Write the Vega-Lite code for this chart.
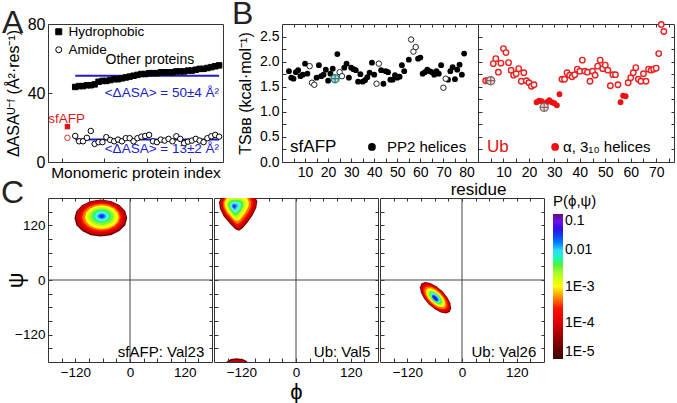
{
"$schema":"https://vega.github.io/schema/vega-lite/v6.json",
"autosize":{"type":"none"},
"padding":{"left":48,"top":24,"right":629,"bottom":379},
"background":"white",
"config":{
 "font":"Liberation Sans",
 "view":{"stroke":"#333","strokeWidth":1},
 "axis":{"domain":false,"grid":false,"tickSize":-4,"tickColor":"#333","labelColor":"#000","titleColor":"#000","titleFontWeight":"normal","labelFont":"Liberation Sans","titleFont":"Liberation Sans","labelPadding":7},
 "title":{"fontSize":32,"fontWeight":"normal","anchor":"start","frame":"group","color":"#222","baseline":"alphabetic"},
 "legend":{"labelFont":"Liberation Sans","titleFont":"Liberation Sans"}
},
"datasets":{
 "asaMean":[{"x1":3,"x2":40,"v":50,"ty":40,"label":"<ΔASA> = 50±4 Å²"},{"x1":3,"x2":40,"v":13,"ty":7.8,"label":"<ΔASA> = 13±2 Å²"}],
 "atext":[{"i":22.2,"v":59,"t":"Other proteins","k":"other"},{"i":0.8,"v":25,"t":"sfAFP","k":"sfAFP"}],
 "asa":[
  {"i":1,"v":20.5,"k":"Hydrophobic","g":"sfAFP"},{"i":1,"v":14,"k":"Amide","g":"sfAFP"},
  {"i":3,"v":43.5,"k":"Hydrophobic","g":"other"},{"i":4,"v":44,"k":"Hydrophobic","g":"other"},{"i":5,"v":44,"k":"Hydrophobic","g":"other"},{"i":6,"v":44.5,"k":"Hydrophobic","g":"other"},{"i":7,"v":44.5,"k":"Hydrophobic","g":"other"},{"i":8,"v":45,"k":"Hydrophobic","g":"other"},{"i":9,"v":46.5,"k":"Hydrophobic","g":"other"},{"i":10,"v":47,"k":"Hydrophobic","g":"other"},{"i":11,"v":47,"k":"Hydrophobic","g":"other"},{"i":12,"v":47.5,"k":"Hydrophobic","g":"other"},{"i":13,"v":48,"k":"Hydrophobic","g":"other"},{"i":14,"v":48,"k":"Hydrophobic","g":"other"},{"i":15,"v":48.5,"k":"Hydrophobic","g":"other"},{"i":16,"v":49,"k":"Hydrophobic","g":"other"},{"i":17,"v":49.5,"k":"Hydrophobic","g":"other"},{"i":18,"v":50,"k":"Hydrophobic","g":"other"},{"i":19,"v":50.5,"k":"Hydrophobic","g":"other"},{"i":20,"v":51,"k":"Hydrophobic","g":"other"},{"i":21,"v":51,"k":"Hydrophobic","g":"other"},{"i":22,"v":51.5,"k":"Hydrophobic","g":"other"},{"i":23,"v":51.5,"k":"Hydrophobic","g":"other"},{"i":24,"v":51.5,"k":"Hydrophobic","g":"other"},{"i":25,"v":52,"k":"Hydrophobic","g":"other"},{"i":26,"v":52,"k":"Hydrophobic","g":"other"},{"i":27,"v":52,"k":"Hydrophobic","g":"other"},{"i":28,"v":52,"k":"Hydrophobic","g":"other"},{"i":29,"v":52.5,"k":"Hydrophobic","g":"other"},{"i":30,"v":52.5,"k":"Hydrophobic","g":"other"},{"i":31,"v":52.5,"k":"Hydrophobic","g":"other"},{"i":32,"v":53,"k":"Hydrophobic","g":"other"},{"i":33,"v":53,"k":"Hydrophobic","g":"other"},{"i":34,"v":53.5,"k":"Hydrophobic","g":"other"},{"i":35,"v":54,"k":"Hydrophobic","g":"other"},{"i":36,"v":54,"k":"Hydrophobic","g":"other"},{"i":37,"v":54.5,"k":"Hydrophobic","g":"other"},{"i":38,"v":55,"k":"Hydrophobic","g":"other"},{"i":39,"v":55.5,"k":"Hydrophobic","g":"other"},{"i":40,"v":56,"k":"Hydrophobic","g":"other"},
  {"i":3,"v":15.1,"k":"Amide","g":"other"},{"i":4,"v":12,"k":"Amide","g":"other"},{"i":5,"v":12,"k":"Amide","g":"other"},{"i":6,"v":14,"k":"Amide","g":"other"},{"i":7,"v":18,"k":"Amide","g":"other"},{"i":8,"v":10.5,"k":"Amide","g":"other"},{"i":9,"v":11.5,"k":"Amide","g":"other"},{"i":10,"v":11.5,"k":"Amide","g":"other"},{"i":11,"v":14.4,"k":"Amide","g":"other"},{"i":12,"v":12.8,"k":"Amide","g":"other"},{"i":13,"v":12,"k":"Amide","g":"other"},{"i":14,"v":13,"k":"Amide","g":"other"},{"i":15,"v":12,"k":"Amide","g":"other"},{"i":16,"v":13.8,"k":"Amide","g":"other"},{"i":17,"v":13.8,"k":"Amide","g":"other"},{"i":18,"v":12,"k":"Amide","g":"other"},{"i":19,"v":13.8,"k":"Amide","g":"other"},{"i":20,"v":14.7,"k":"Amide","g":"other"},{"i":21,"v":15.1,"k":"Amide","g":"other"},{"i":22,"v":15.7,"k":"Amide","g":"other"},{"i":23,"v":12,"k":"Amide","g":"other"},{"i":24,"v":11.5,"k":"Amide","g":"other"},{"i":25,"v":13,"k":"Amide","g":"other"},{"i":26,"v":12.4,"k":"Amide","g":"other"},{"i":27,"v":13.4,"k":"Amide","g":"other"},{"i":28,"v":12,"k":"Amide","g":"other"},{"i":29,"v":14.9,"k":"Amide","g":"other"},{"i":30,"v":13.4,"k":"Amide","g":"other"},{"i":31,"v":10.9,"k":"Amide","g":"other"},{"i":32,"v":11.8,"k":"Amide","g":"other"},{"i":33,"v":12.4,"k":"Amide","g":"other"},{"i":34,"v":13.4,"k":"Amide","g":"other"},{"i":35,"v":12.4,"k":"Amide","g":"other"},{"i":36,"v":11.5,"k":"Amide","g":"other"},{"i":37,"v":13.8,"k":"Amide","g":"other"},{"i":38,"v":14.9,"k":"Amide","g":"other"},{"i":39,"v":15.7,"k":"Amide","g":"other"},{"i":40,"v":14.7,"k":"Amide","g":"other"}
 ],
 "sf":[
  {"r":3,"v":1.81,"t":"h"},{"r":4,"v":1.68,"t":"h"},{"r":5,"v":1.66,"t":"h"},{"r":6,"v":1.79,"t":"h"},{"r":7,"v":1.83,"t":"h"},{"r":8,"v":1.71,"t":"h"},{"r":9,"v":1.74,"t":"h"},{"r":10,"v":1.96,"t":"h"},{"r":11,"v":1.76,"t":"h"},{"r":12,"v":1.91,"t":"o"},{"r":13,"v":1.58,"t":"o"},{"r":14,"v":1.54,"t":"o"},{"r":15,"v":1.68,"t":"h"},{"r":16,"v":1.93,"t":"h"},{"r":17,"v":1.71,"t":"h"},{"r":18,"v":1.74,"t":"h"},{"r":19,"v":1.84,"t":"h"},{"r":20,"v":1.62,"t":"h"},{"r":21,"v":1.76,"t":"h"},{"r":22,"v":1.86,"t":"h"},{"r":23,"v":1.66,"t":"x"},{"r":24,"v":2.15,"t":"h"},{"r":25,"v":1.79,"t":"o"},{"r":26,"v":1.71,"t":"o"},{"r":27,"v":1.88,"t":"h"},{"r":28,"v":1.96,"t":"h"},{"r":29,"v":1.68,"t":"h"},{"r":30,"v":1.88,"t":"h"},{"r":31,"v":1.85,"t":"h"},{"r":32,"v":1.83,"t":"h"},{"r":33,"v":1.6,"t":"h"},{"r":34,"v":1.75,"t":"h"},{"r":35,"v":1.6,"t":"h"},{"r":36,"v":1.63,"t":"h"},{"r":37,"v":1.69,"t":"h"},{"r":38,"v":1.78,"t":"h"},{"r":39,"v":1.98,"t":"h"},{"r":40,"v":1.74,"t":"h"},{"r":41,"v":1.56,"t":"o"},{"r":42,"v":1.96,"t":"o"},{"r":43,"v":1.83,"t":"h"},{"r":44,"v":1.56,"t":"h"},{"r":45,"v":1.81,"t":"h"},{"r":46,"v":1.79,"t":"h"},{"r":47,"v":1.64,"t":"h"},{"r":48,"v":1.64,"t":"h"},{"r":49,"v":1.73,"t":"h"},{"r":50,"v":1.68,"t":"h"},{"r":51,"v":1.7,"t":"h"},{"r":52,"v":1.93,"t":"h"},{"r":53,"v":1.81,"t":"h"},{"r":55,"v":2.04,"t":"h"},{"r":56,"v":2.44,"t":"o"},{"r":57,"v":2.2,"t":"o"},{"r":58,"v":2.29,"t":"o"},{"r":59,"v":2.06,"t":"h"},{"r":60,"v":2.08,"t":"h"},{"r":61,"v":1.76,"t":"h"},{"r":62,"v":1.79,"t":"h"},{"r":63,"v":1.84,"t":"h"},{"r":64,"v":1.81,"t":"h"},{"r":65,"v":1.79,"t":"h"},{"r":66,"v":1.74,"t":"h"},{"r":67,"v":1.81,"t":"h"},{"r":68,"v":1.76,"t":"h"},{"r":69,"v":1.93,"t":"h"},{"r":70,"v":1.48,"t":"o"},{"r":71,"v":1.66,"t":"o"},{"r":72,"v":1.64,"t":"h"},{"r":73,"v":1.81,"t":"h"},{"r":74,"v":1.89,"t":"h"},{"r":75,"v":1.65,"t":"h"},{"r":76,"v":1.84,"t":"h"},{"r":77,"v":1.94,"t":"h"},{"r":78,"v":1.74,"t":"h"},{"r":79,"v":2.16,"t":"h"}
 ],
 "ub":[
  {"r":3,"v":1.62,"t":"o"},{"r":4,"v":1.62,"t":"o"},{"r":5,"v":1.62,"t":"x"},{"r":6,"v":1.96,"t":"o"},{"r":7,"v":2.06,"t":"o"},{"r":8,"v":1.79,"t":"o"},{"r":9,"v":1.97,"t":"o"},{"r":10,"v":2.26,"t":"o"},{"r":11,"v":2.18,"t":"o"},{"r":12,"v":1.98,"t":"o"},{"r":13,"v":1.83,"t":"o"},{"r":14,"v":1.73,"t":"o"},{"r":15,"v":1.76,"t":"o"},{"r":16,"v":1.86,"t":"o"},{"r":17,"v":1.61,"t":"o"},{"r":18,"v":1.78,"t":"o"},{"r":19,"v":1.62,"t":"o"},{"r":20,"v":1.58,"t":"o"},{"r":21,"v":1.51,"t":"o"},{"r":22,"v":1.54,"t":"o"},{"r":23,"v":1.19,"t":"h"},{"r":24,"v":1.22,"t":"h"},{"r":25,"v":1.21,"t":"h"},{"r":26,"v":1.09,"t":"x"},{"r":27,"v":1.19,"t":"h"},{"r":28,"v":1.23,"t":"h"},{"r":29,"v":1.19,"t":"h"},{"r":30,"v":1.17,"t":"h"},{"r":31,"v":1.13,"t":"h"},{"r":32,"v":1.35,"t":"h"},{"r":33,"v":1.65,"t":"o"},{"r":34,"v":1.65,"t":"o"},{"r":35,"v":1.78,"t":"o"},{"r":36,"v":1.73,"t":"o"},{"r":37,"v":1.7,"t":"o"},{"r":38,"v":1.74,"t":"o"},{"r":39,"v":1.85,"t":"o"},{"r":40,"v":1.81,"t":"o"},{"r":41,"v":2.03,"t":"o"},{"r":42,"v":1.81,"t":"o"},{"r":43,"v":1.79,"t":"o"},{"r":44,"v":1.61,"t":"o"},{"r":45,"v":1.81,"t":"o"},{"r":46,"v":1.73,"t":"o"},{"r":47,"v":1.91,"t":"o"},{"r":48,"v":2.03,"t":"o"},{"r":49,"v":1.86,"t":"o"},{"r":50,"v":1.93,"t":"o"},{"r":51,"v":1.83,"t":"o"},{"r":52,"v":1.52,"t":"o"},{"r":53,"v":1.74,"t":"o"},{"r":54,"v":1.74,"t":"o"},{"r":55,"v":1.54,"t":"o"},{"r":56,"v":1.19,"t":"h"},{"r":57,"v":1.32,"t":"h"},{"r":58,"v":1.31,"t":"h"},{"r":59,"v":1.58,"t":"o"},{"r":60,"v":1.68,"t":"o"},{"r":61,"v":1.78,"t":"o"},{"r":62,"v":1.88,"t":"o"},{"r":63,"v":1.65,"t":"o"},{"r":64,"v":1.61,"t":"o"},{"r":65,"v":1.76,"t":"o"},{"r":66,"v":1.61,"t":"o"},{"r":67,"v":1.85,"t":"o"},{"r":68,"v":1.83,"t":"o"},{"r":69,"v":1.85,"t":"o"},{"r":70,"v":1.87,"t":"o"},{"r":71,"v":2.16,"t":"o"},{"r":72,"v":2.74,"t":"o"},{"r":73,"v":2.6,"t":"o"}
 ],
 "blab":[{"p":"sf","k":"name","r":3.5,"v":0.3,"t":"sfAFP"},{"p":"sf","k":"key","r":45.5,"v":0.3,"t":"PP2 helices"},{"p":"ub","k":"name","r":3.5,"v":0.3,"t":"Ub"},{"p":"ub","k":"key","r":33.4,"v":0.3,"t":"α, 3₁₀ helices"}],
 "bdot":[{"p":"sf","r":39,"v":0.3},{"p":"ub","r":30.3,"v":0.3}],
 "rama":[
  {"p":"s","phi":-64,"psi":136,"e":58,"lp":-4.7},{"p":"s","phi":-64,"psi":137,"e":55,"lp":-4.1},{"p":"s","phi":-63,"psi":137,"e":47,"lp":-3.7},{"p":"s","phi":-63,"psi":138,"e":42,"lp":-3.35},{"p":"s","phi":-62,"psi":138,"e":37,"lp":-3.0},{"p":"s","phi":-62,"psi":139,"e":31,"lp":-2.75},{"p":"s","phi":-62,"psi":139,"e":26,"lp":-2.5},{"p":"s","phi":-62,"psi":140,"e":20,"lp":-2.3},{"p":"s","phi":-62,"psi":140,"e":15,"lp":-2.1},{"p":"s","phi":-62,"psi":140,"e":11,"lp":-1.95},{"p":"s","phi":-62,"psi":140,"e":8,"lp":-1.8},{"p":"s","phi":-62,"psi":140,"e":5,"lp":-1.6},{"p":"s","phi":-62,"psi":140,"e":2.5,"lp":-1.45},
  {"p":"v5","phi":-127,"psi":150,"e":42,"lp":-4.7},{"p":"v5","phi":-127,"psi":151,"e":40,"lp":-4.1},{"p":"v5","phi":-128,"psi":153,"e":34,"lp":-3.6},{"p":"v5","phi":-129,"psi":154,"e":31,"lp":-3.35},{"p":"v5","phi":-130,"psi":156,"e":27,"lp":-3.0},{"p":"v5","phi":-131,"psi":157,"e":22,"lp":-2.7},{"p":"v5","phi":-132,"psi":158,"e":17,"lp":-2.4},{"p":"v5","phi":-133,"psi":159,"e":12,"lp":-2.1},{"p":"v5","phi":-134,"psi":160,"e":8,"lp":-1.95},{"p":"v5","phi":-135,"psi":161,"e":5,"lp":-1.75},{"p":"v5","phi":-136,"psi":161,"e":2.5,"lp":-1.55},
  {"p":"v5","phi":-130,"psi":-200,"e":26,"lp":-4.7},{"p":"v5","phi":-130,"psi":-200,"e":23,"lp":-4.1},
  {"p":"v26","phi":-58,"psi":-39,"e":44,"lp":-4.7},{"p":"v26","phi":-58,"psi":-39,"e":42,"lp":-4.1},{"p":"v26","phi":-58,"psi":-39,"e":36,"lp":-3.6},{"p":"v26","phi":-58,"psi":-39,"e":32,"lp":-3.35},{"p":"v26","phi":-58,"psi":-39,"e":27,"lp":-3.0},{"p":"v26","phi":-58,"psi":-39,"e":22,"lp":-2.7},{"p":"v26","phi":-58,"psi":-39,"e":18,"lp":-2.4},{"p":"v26","phi":-58,"psi":-39,"e":14,"lp":-2.1},{"p":"v26","phi":-58,"psi":-39,"e":11,"lp":-1.95},{"p":"v26","phi":-59,"psi":-40,"e":9,"lp":-1.7},{"p":"v26","phi":-59,"psi":-40,"e":6.5,"lp":-1.5}
 ]
},
"resolve":{"scale":{"color":"independent","shape":"independent","fill":"independent","stroke":"independent","size":"independent"},"legend":{"color":"independent","shape":"independent","fill":"independent","stroke":"independent","size":"independent"}},
"spacing":-22,
"vconcat":[
 {"bounds":"flush","spacing":59,
  "resolve":{"scale":{"color":"independent","shape":"independent","fill":"independent","stroke":"independent","size":"independent"},"legend":{"color":"independent","shape":"independent","fill":"independent","stroke":"independent","size":"independent"}},
  "hconcat":[
  {"width":175,"height":138,
   "title":{"text":"A","dx":-46,"offset":-24},
   "layer":[
    {"data":{"name":"asaMean"},"mark":{"type":"rule","color":"#1c1cc8","strokeWidth":2},
     "encoding":{
      "x":{"field":"x1","type":"quantitative","scale":{"domain":[-4,41],"nice":false,"zero":false},
           "axis":{"values":[-0.5,2.25,5,7.75,10.5,13.25,16,18.75,21.5,24.25,27,29.75,32.5,35.25,38,40.75],"labels":false,"title":"Monomeric protein index","titleFontSize":15.5,"titlePadding":3}},
      "x2":{"field":"x2"},
      "y":{"field":"v","type":"quantitative","scale":{"domain":[0,80],"nice":false,"zero":false},
           "axis":{"values":[0,10,20,30,40,50,60,70,80],"labelExpr":"datum.value % 20 == 0 ? datum.label : ''","labelFontSize":16,"title":"ΔASAᵁ⁻ᶠ (Å²·res⁻¹)","titleFontSize":16,"titlePadding":6}}}},
    {"data":{"name":"asaMean"},"mark":{"type":"text","align":"right","baseline":"middle","fontSize":13.5,"color":"#1c1cc8"},
     "encoding":{"x":{"field":"x2","type":"quantitative"},"y":{"field":"ty","type":"quantitative"},"text":{"field":"label"}}},
    {"data":{"name":"asa"},"transform":[{"filter":"datum.g == 'other'"}],
     "mark":{"type":"point","filled":false,"strokeWidth":1,"size":30,"opacity":1},
     "encoding":{"x":{"field":"i","type":"quantitative"},"y":{"field":"v","type":"quantitative"},
      "shape":{"field":"k","type":"nominal","scale":{"domain":["Hydrophobic","Amide"],"range":["square","circle"]},
        "legend":{"title":null,"orient":"none","legendX":4,"legendY":1,"labelFontSize":13.5,"labelColor":"#000","symbolSize":36,"symbolStrokeWidth":1,"rowPadding":3,"labelOffset":3,"padding":0}},
      "fill":{"field":"k","type":"nominal","scale":{"domain":["Hydrophobic","Amide"],"range":["#000","#fff"]},
        "legend":{"title":null,"orient":"none","legendX":4,"legendY":1,"labelFontSize":13.5,"labelColor":"#000","symbolSize":36,"symbolStrokeWidth":1,"rowPadding":3,"labelOffset":3,"padding":0}},
      "stroke":{"field":"k","type":"nominal","scale":{"domain":["Hydrophobic","Amide"],"range":["#000","#000"]},
        "legend":{"title":null,"orient":"none","legendX":4,"legendY":1,"labelFontSize":13.5,"labelColor":"#000","symbolSize":36,"symbolStrokeWidth":1,"rowPadding":3,"labelOffset":3,"padding":0}}}},
    {"data":{"name":"asa"},"transform":[{"filter":"datum.g == 'sfAFP' && datum.k == 'Hydrophobic'"}],
     "mark":{"type":"point","shape":"square","filled":true,"color":"#d81818","size":30,"opacity":1},
     "encoding":{"x":{"field":"i","type":"quantitative"},"y":{"field":"v","type":"quantitative"}}},
    {"data":{"name":"asa"},"transform":[{"filter":"datum.g == 'sfAFP' && datum.k == 'Amide'"}],
     "mark":{"type":"point","shape":"circle","filled":false,"color":"#e03030","strokeWidth":1,"size":30,"opacity":1},
     "encoding":{"x":{"field":"i","type":"quantitative"},"y":{"field":"v","type":"quantitative"}}},
    {"data":{"name":"atext"},"transform":[{"filter":"datum.k == 'other'"}],
     "mark":{"type":"text","align":"center","baseline":"middle","fontSize":14,"color":"#000"},
     "encoding":{"x":{"field":"i","type":"quantitative"},"y":{"field":"v","type":"quantitative"},"text":{"field":"t"}}},
    {"data":{"name":"atext"},"transform":[{"filter":"datum.k == 'sfAFP'"}],
     "mark":{"type":"text","align":"center","baseline":"middle","fontSize":13.5,"color":"#d81818"},
     "encoding":{"x":{"field":"i","type":"quantitative"},"y":{"field":"v","type":"quantitative"},"text":{"field":"t"}}}
   ]},
  {"bounds":"flush","spacing":0,
   "hconcat":[
   {"width":196,"height":138,
    "title":{"text":"B","dx":-50,"offset":-7},
    "resolve":{"axis":{"x":"independent","y":"independent"}},
    "layer":[
     {"data":{"name":"sf"},"transform":[{"filter":"datum.t == 'h'"}],
      "mark":{"type":"point","filled":true,"color":"#000","size":34,"opacity":1},
      "encoding":{
       "x":{"field":"r","type":"quantitative","scale":{"domain":[0,85],"nice":false,"zero":false},
            "axis":{"values":[5,10,15,20,25,30,35,40,45,50,55,60,65,70,75,80],"labelExpr":"datum.value % 10 == 0 ? datum.label : ''","labelFontSize":14,"title":null}},
       "y":{"field":"v","type":"quantitative","scale":{"domain":[0,2.75],"nice":false,"zero":false},
            "axis":{"values":[0,0.25,0.5,0.75,1,1.25,1.5,1.75,2,2.25,2.5],"labelExpr":"datum.value % 0.5 == 0 ? format(datum.value, '.1f') : ''","labelFontSize":14,"title":"TSʙʙ (kcal·mol⁻¹)","titleFontSize":16,"titlePadding":6}}}},
     {"data":{"name":"sf"},"transform":[{"filter":"datum.t == 'o'"}],
      "mark":{"type":"point","filled":false,"stroke":"#222","fill":"#fff","strokeWidth":1,"size":30,"opacity":1},
      "encoding":{"x":{"field":"r","type":"quantitative","axis":null},"y":{"field":"v","type":"quantitative","axis":null}}},
     {"data":{"name":"sf"},"transform":[{"filter":"datum.t == 'x'"}],
      "mark":{"type":"point","shape":"M1,0L0.866,0.5L0.5,0.866L0,1L-0.5,0.866L-0.866,0.5L-1,0L-0.866,-0.5L-0.5,-0.866L0,-1L0.5,-0.866L0.866,-0.5ZM-1,0L1,0M0,-1L0,1","filled":false,"stroke":"#2a7a7a","fill":"#b8dcdc","strokeWidth":1.2,"size":70,"opacity":1},
      "encoding":{"x":{"field":"r","type":"quantitative","axis":null},"y":{"field":"v","type":"quantitative","axis":null}}},
     {"data":{"name":"sf"},"mark":{"type":"point","opacity":0},
      "encoding":{"x":{"field":"r","type":"quantitative","axis":{"orient":"top","values":[5,10,15,20,25,30,35,40,45,50,55,60,65,70,75,80],"labels":false,"title":null,"tickSize":-3}},"y":{"field":"v","type":"quantitative","axis":null}}},
     {"data":{"name":"blab"},"transform":[{"filter":"datum.p == 'sf' && datum.k == 'name'"}],
      "mark":{"type":"text","align":"left","baseline":"middle","fontSize":17,"color":"#000"},
      "encoding":{"x":{"field":"r","type":"quantitative","axis":null},"y":{"field":"v","type":"quantitative","axis":null},"text":{"field":"t"}}},
     {"data":{"name":"blab"},"transform":[{"filter":"datum.p == 'sf' && datum.k == 'key'"}],
      "mark":{"type":"text","align":"left","baseline":"middle","fontSize":15,"color":"#000"},
      "encoding":{"x":{"field":"r","type":"quantitative","axis":null},"y":{"field":"v","type":"quantitative","axis":null},"text":{"field":"t"}}},
     {"data":{"name":"bdot"},"transform":[{"filter":"datum.p == 'sf'"}],
      "mark":{"type":"point","filled":true,"color":"#000","size":60,"opacity":1},
      "encoding":{"x":{"field":"r","type":"quantitative","axis":null},"y":{"field":"v","type":"quantitative","axis":null}}}
    ]},
   {"width":196,"height":138,
    "resolve":{"axis":{"x":"independent","y":"independent"}},
    "layer":[
     {"data":{"name":"ub"},"transform":[{"filter":"datum.t == 'o'"}],
      "mark":{"type":"point","filled":false,"stroke":"#e52222","fill":"#fff4f4","strokeWidth":1.4,"size":30,"opacity":1},
      "encoding":{
       "x":{"field":"r","type":"quantitative","scale":{"domain":[0,77],"nice":false,"zero":false},
            "axis":{"values":[5,10,15,20,25,30,35,40,45,50,55,60,65,70,75],"labelExpr":"datum.value % 10 == 0 ? datum.label : ''","labelFontSize":14,"title":"residue","titleFontSize":17,"titleX":0,"titleAlign":"center","titlePadding":2}},
       "y":{"field":"v","type":"quantitative","scale":{"domain":[0,2.75],"nice":false,"zero":false},
            "axis":{"values":[0,0.25,0.5,0.75,1,1.25,1.5,1.75,2,2.25,2.5],"labels":false,"title":null}}}},
     {"data":{"name":"ub"},"transform":[{"filter":"datum.t == 'h'"}],
      "mark":{"type":"point","filled":true,"color":"#ee1111","size":34,"opacity":1},
      "encoding":{"x":{"field":"r","type":"quantitative","axis":null},"y":{"field":"v","type":"quantitative","axis":null}}},
     {"data":{"name":"ub"},"transform":[{"filter":"datum.t == 'x'"}],
      "mark":{"type":"point","shape":"M1,0L0.866,0.5L0.5,0.866L0,1L-0.5,0.866L-0.866,0.5L-1,0L-0.866,-0.5L-0.5,-0.866L0,-1L0.5,-0.866L0.866,-0.5ZM-1,0L1,0M0,-1L0,1","filled":false,"stroke":"#806666","fill":"#f2d6d6","strokeWidth":1.2,"size":70,"opacity":1},
      "encoding":{"x":{"field":"r","type":"quantitative","axis":null},"y":{"field":"v","type":"quantitative","axis":null}}},
     {"data":{"name":"ub"},"mark":{"type":"point","opacity":0},
      "encoding":{"x":{"field":"r","type":"quantitative","axis":{"orient":"top","values":[5,10,15,20,25,30,35,40,45,50,55,60,65,70,75],"labels":false,"title":null,"tickSize":-3}},
                  "y":{"field":"v","type":"quantitative","axis":{"orient":"right","values":[0.25,0.5,0.75,1,1.25,1.5,1.75,2,2.25,2.5],"labels":false,"title":null,"tickSize":-3}}}},
     {"data":{"name":"blab"},"transform":[{"filter":"datum.p == 'ub' && datum.k == 'name'"}],
      "mark":{"type":"text","align":"left","baseline":"middle","fontSize":17,"color":"#e01010"},
      "encoding":{"x":{"field":"r","type":"quantitative","axis":null},"y":{"field":"v","type":"quantitative","axis":null},"text":{"field":"t"}}},
     {"data":{"name":"blab"},"transform":[{"filter":"datum.p == 'ub' && datum.k == 'key'"}],
      "mark":{"type":"text","align":"left","baseline":"middle","fontSize":15,"color":"#000"},
      "encoding":{"x":{"field":"r","type":"quantitative","axis":null},"y":{"field":"v","type":"quantitative","axis":null},"text":{"field":"t"}}},
     {"data":{"name":"bdot"},"transform":[{"filter":"datum.p == 'ub'"}],
      "mark":{"type":"point","filled":true,"color":"#ee1111","size":60,"opacity":1},
      "encoding":{"x":{"field":"r","type":"quantitative","axis":null},"y":{"field":"v","type":"quantitative","axis":null}}}
    ]}
  ]}
 ]},
 {"bounds":"flush","spacing":2,
  "resolve":{"scale":{"color":"independent","size":"independent"},"legend":{"color":"independent","size":"independent"}},
  "hconcat":[
  {"width":164,"height":164,
   "title":{"text":"C","dx":-47,"offset":-12},
   "resolve":{"axis":{"x":"independent","y":"independent"}},
   "layer":[
    {"data":{"name":"rama"},"transform":[{"filter":"datum.p == 's'"}],
     "mark":{"type":"point","filled":true,"shape":"M1,0L0.924,0.268L0.707,0.495L0.383,0.647L0,0.7L-0.383,0.647L-0.707,0.495L-0.924,0.268L-1,0L-0.924,-0.268L-0.707,-0.495L-0.383,-0.647L0,-0.7L0.383,-0.647L0.707,-0.495L0.924,-0.268Z","strokeWidth":0,"opacity":1,"clip":true},
     "encoding":{
      "x":{"field":"phi","type":"quantitative","scale":{"domain":[-180,180],"nice":false,"zero":false},
           "axis":{"values":[-150,-120,-90,-60,-30,0,30,60,90,120,150],"labelExpr":"abs(datum.value) % 120 == 0 ? datum.label : ''","labelFontSize":13.5,"title":null}},
      "y":{"field":"psi","type":"quantitative","scale":{"domain":[-180,180],"nice":false,"zero":false},
           "axis":{"values":[-150,-120,-90,-60,-30,0,30,60,90,120,150],"labelExpr":"abs(datum.value) % 120 == 0 ? datum.label : ''","labelFontSize":13.5,"title":"ψ","titleFontSize":22,"titlePadding":-13}},
      "size":{"field":"e","type":"quantitative","scale":{"type":"pow","exponent":2,"domain":[0,100],"range":[0,8300]},"legend":null},
      "color":{"field":"lp","type":"quantitative","scale":{"domain":[-5,-4.5,-4,-3.6,-3.35,-3,-2.7,-2.4,-2.1,-1.95,-1.7,-1.45,-1.2,-1],"range":["#3c0000","#8a0000","#e00000","#ff1000","#ff7000","#ffff00","#c0ff20","#50f040","#50ffe0","#60c0ff","#2050ff","#1010e0","#7010f0","#601070"]},"legend":null},
      "order":{"field":"lp","type":"quantitative"}}},
    {"data":{"values":[{}]},"mark":{"type":"rule","color":"#444","strokeWidth":1},
     "encoding":{"x":{"datum":0,"type":"quantitative","axis":{"orient":"top","values":[-150,-120,-90,-60,-30,0,30,60,90,120,150],"labels":false,"title":null,"tickSize":-3}}}},
    {"data":{"values":[{}]},"mark":{"type":"rule","color":"#444","strokeWidth":1},
     "encoding":{"y":{"datum":0,"type":"quantitative","axis":{"orient":"right","values":[-150,-120,-90,-60,-30,0,30,60,90,120,150],"labels":false,"title":null,"tickSize":-3}}}},
    {"data":{"values":[{}]},"mark":{"type":"text","align":"right","baseline":"middle","fontSize":15,"color":"#000"},
     "encoding":{"x":{"datum":163,"type":"quantitative","axis":null},"y":{"datum":-158,"type":"quantitative","axis":null},"text":{"value":"sfAFP: Val23"}}}
   ]},
  {"width":164,"height":164,
   "resolve":{"axis":{"x":"independent","y":"independent"}},
   "layer":[
    {"data":{"name":"rama"},"transform":[{"filter":"datum.p == 'v5'"}],
     "mark":{"type":"point","filled":true,"shape":"M0,-1.08L0.55,-1L0.85,-0.85L1,-0.55L0.95,-0.2L0.75,0.2L0.5,0.55L0.25,0.85L0.05,1L-0.15,0.92L-0.45,0.6L-0.75,0.25L-0.95,-0.15L-1,-0.5L-0.85,-0.82L-0.5,-1.02Z","strokeWidth":0,"opacity":1,"clip":true},
     "encoding":{
      "x":{"field":"phi","type":"quantitative","scale":{"domain":[-180,180],"nice":false,"zero":false},
           "axis":{"values":[-150,-120,-90,-60,-30,0,30,60,90,120,150],"labelExpr":"abs(datum.value) % 120 == 0 ? datum.label : ''","labelFontSize":13.5,"title":"ϕ","titleFontSize":22,"titlePadding":3}},
      "y":{"field":"psi","type":"quantitative","scale":{"domain":[-180,180],"nice":false,"zero":false},
           "axis":{"values":[-150,-120,-90,-60,-30,0,30,60,90,120,150],"labels":false,"title":null}},
      "size":{"field":"e","type":"quantitative","scale":{"type":"pow","exponent":2,"domain":[0,100],"range":[0,8300]},"legend":null},
      "color":{"field":"lp","type":"quantitative","scale":{"domain":[-5,-4.5,-4,-3.6,-3.35,-3,-2.7,-2.4,-2.1,-1.95,-1.7,-1.45,-1.2,-1],"range":["#3c0000","#8a0000","#e00000","#ff1000","#ff7000","#ffff00","#c0ff20","#50f040","#50ffe0","#60c0ff","#2050ff","#1010e0","#7010f0","#601070"]},"legend":null},
      "order":{"field":"lp","type":"quantitative"}}},
    {"data":{"values":[{}]},"mark":{"type":"rule","color":"#444","strokeWidth":1},
     "encoding":{"x":{"datum":0,"type":"quantitative","axis":{"orient":"top","values":[-150,-120,-90,-60,-30,0,30,60,90,120,150],"labels":false,"title":null,"tickSize":-3}}}},
    {"data":{"values":[{}]},"mark":{"type":"rule","color":"#444","strokeWidth":1},
     "encoding":{"y":{"datum":0,"type":"quantitative","axis":{"orient":"right","values":[-150,-120,-90,-60,-30,0,30,60,90,120,150],"labels":false,"title":null,"tickSize":-3}}}},
    {"data":{"values":[{}]},"mark":{"type":"text","align":"right","baseline":"middle","fontSize":15,"color":"#000"},
     "encoding":{"x":{"datum":163,"type":"quantitative","axis":null},"y":{"datum":-158,"type":"quantitative","axis":null},"text":{"value":"Ub: Val5"}}}
   ]},
  {"width":164,"height":164,
   "resolve":{"axis":{"x":"independent","y":"independent"}},
   "layer":[
    {"data":{"name":"rama"},"transform":[{"filter":"datum.p == 'v26'"}],
     "mark":{"type":"point","filled":true,"angle":45,"shape":"M1,0L0.924,0.18L0.707,0.332L0.383,0.434L0,0.47L-0.383,0.434L-0.707,0.332L-0.924,0.18L-1,0L-0.924,-0.18L-0.707,-0.332L-0.383,-0.434L0,-0.47L0.383,-0.434L0.707,-0.332L0.924,-0.18Z","strokeWidth":0,"opacity":1,"clip":true},
     "encoding":{
      "x":{"field":"phi","type":"quantitative","scale":{"domain":[-180,180],"nice":false,"zero":false},
           "axis":{"values":[-150,-120,-90,-60,-30,0,30,60,90,120,150],"labelExpr":"abs(datum.value) % 120 == 0 ? datum.label : ''","labelFontSize":13.5,"title":null}},
      "y":{"field":"psi","type":"quantitative","scale":{"domain":[-180,180],"nice":false,"zero":false},
           "axis":{"values":[-150,-120,-90,-60,-30,0,30,60,90,120,150],"labels":false,"title":null}},
      "size":{"field":"e","type":"quantitative","scale":{"type":"pow","exponent":2,"domain":[0,100],"range":[0,8300]},"legend":null},
      "color":{"field":"lp","type":"quantitative","scale":{"domain":[-5,-4.5,-4,-3.6,-3.35,-3,-2.7,-2.4,-2.1,-1.95,-1.7,-1.45,-1.2,-1],"range":["#3c0000","#8a0000","#e00000","#ff1000","#ff7000","#ffff00","#c0ff20","#50f040","#50ffe0","#60c0ff","#2050ff","#1010e0","#7010f0","#601070"]},
        "legend":{"orient":"none","legendX":173,"legendY":-4,"direction":"vertical","gradientLength":145,"gradientThickness":10,"gradientStrokeWidth":0,"title":"P(ϕ,ψ)","titleFontSize":15,"titleFontWeight":"normal","titleColor":"#000","titlePadding":5,"values":[-5,-4,-3,-2,-1],"labelExpr":"datum.value == -1 ? '0.1' : datum.value == -2 ? '0.01' : '1E' + datum.value","labelFontSize":14,"labelColor":"#000","labelOffset":2,"padding":0}},
      "order":{"field":"lp","type":"quantitative"}}},
    {"data":{"values":[{}]},"mark":{"type":"rule","color":"#444","strokeWidth":1},
     "encoding":{"x":{"datum":0,"type":"quantitative","axis":{"orient":"top","values":[-150,-120,-90,-60,-30,0,30,60,90,120,150],"labels":false,"title":null,"tickSize":-3}}}},
    {"data":{"values":[{}]},"mark":{"type":"rule","color":"#444","strokeWidth":1},
     "encoding":{"y":{"datum":0,"type":"quantitative","axis":{"orient":"right","values":[-150,-120,-90,-60,-30,0,30,60,90,120,150],"labels":false,"title":null,"tickSize":-3}}}},
    {"data":{"values":[{}]},"mark":{"type":"text","align":"right","baseline":"middle","fontSize":15,"color":"#000"},
     "encoding":{"x":{"datum":163,"type":"quantitative","axis":null},"y":{"datum":-158,"type":"quantitative","axis":null},"text":{"value":"Ub: Val26"}}}
   ]}
 ]}
]
}
